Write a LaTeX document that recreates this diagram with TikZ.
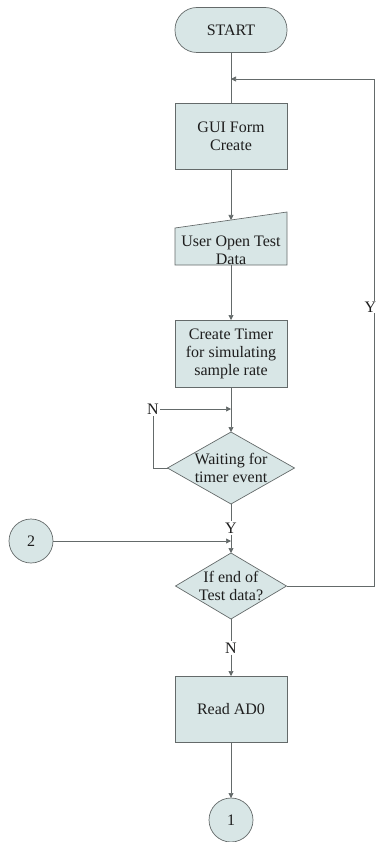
\documentclass[tikz,border=0pt]{standalone}
\usepackage{fontspec}
\setmainfont{Liberation Serif}
\usepackage{tikz}
\usetikzlibrary{positioning,calc
  ,shapes.geometric
  ,arrows.meta}
\definecolor{flowfill}{RGB}{216,230,230}
\definecolor{flowline}{RGB}{100,106,106}
\definecolor{flowtext}{RGB}{30,30,30}
\tikzset{
  flowpic/.style={
    x=1pt,y=-1pt
    ,line width=.7pt
    ,color=flowline
    ,text=flowtext
    ,font=\fontsize{16}{18}\selectfont
  }
  ,shapebox/.style={draw=flowline,fill=flowfill,inner sep=0pt,outer sep=0pt,align=center}
  ,terminal/.style={shapebox,minimum width=112pt,minimum height=45pt,rounded corners=22pt}
  ,process/.style={shapebox,minimum width=112pt,minimum height=66pt}
  ,decision/.style={shapebox,diamond}
  ,connector/.style={shapebox,circle,minimum size=44pt}
  ,decisiontext/.style={align=center,inner sep=0pt,text=flowtext}
  ,flowlabel/.style={inner sep=1pt,fill=white}
  ,arrow/.style={-{Triangle[length=5pt,width=5pt]}}
}

\begin{document}
\begin{tikzpicture}[flowpic]
    \useasboundingbox (0,0) rectangle (377,842);
    % main column
    \node[terminal] (start) at (231,30) {START};
    \node[process] (gui) at (231,136) {GUI Form\\Create};
    % manual input
    \coordinate (inputtl) at (175,228);
    \coordinate (inputtr) at (287,212);
    \coordinate (inputbr) at (287,265);
    \coordinate (inputbl) at (175,265);
    \draw[shapebox] (inputtl) -- (inputtr) -- (inputbr) -- (inputbl) -- cycle;
    \coordinate (inputtop) at ($(inputtl)!.5!(inputtr)$);
    \coordinate (inputbot) at ($(inputbl)!.5!(inputbr)$);
    \node[align=center,inner sep=0pt] (input) at (231,250) {User Open Test\\Data};
    \node[process,minimum height=67pt] (timer) at (231,353.5) {Create Timer\\for simulating\\sample rate};
    \node[decision,minimum width=127pt,minimum height=72pt
      ,label={[decisiontext]center:Waiting for\\timer event}] (wait) at (231,468) {};
    \node[decision,minimum width=111pt,minimum height=66pt
      ,label={[decisiontext]center:If end of\\Test data?}] (ifend) at (231,586) {};
    \node[process] (read) at (231,709) {Read AD0};
    \node[connector] (conone) at (231,820) {1};
    \node[connector] (contwo) at (31,541) {2};
    % labels
    \node[flowlabel] (waitno) at (153,409) {N};
    \node[flowlabel] (waityes) at (231,528) {Y};
    \node[flowlabel] (endno) at (231,648) {N};
    % connectors
    \coordinate (loopturn) at (374,79);
    \coordinate (looptop) at (start.south |- loopturn);
    \draw (start.south) -- (gui.north);
    \draw[arrow] (gui.south) -- (inputtop);
    \draw[arrow] (inputbot) -- (timer.north);
    \draw[arrow] (timer.south) -- (wait.north);
    \draw (wait.west) -| (waitno.south);
    \draw[arrow] (waitno.east) -- (waitno -| timer.south);
    \draw (wait.south) -- (waityes.north);
    \draw[arrow] (waityes.south) -- (ifend.north);
    \draw[arrow] (contwo.east) -- (contwo -| ifend.north);
    \draw (ifend.south) -- (endno.north);
    \draw[arrow] (endno.south) -- (read.north);
    \draw[arrow] (read.south) -- (conone.north);
    \draw[arrow] (ifend.east) -| (loopturn) -- (looptop);
    \node[flowlabel,inner sep=.5pt] (endyes) at (370.5,307) {Y};
\end{tikzpicture}
\end{document}
